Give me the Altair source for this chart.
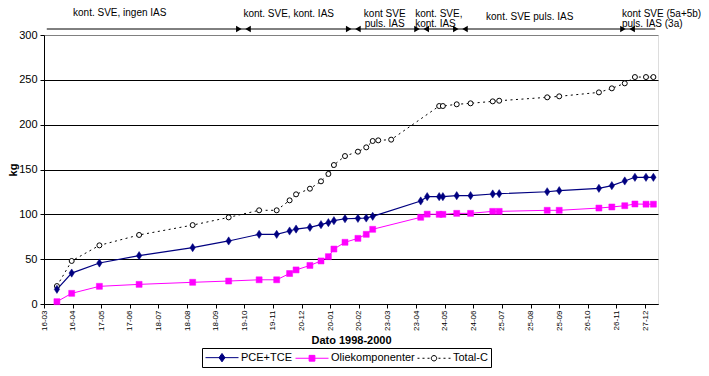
import json
import altair as alt
import pandas as pd

# ---------------- data ----------------
base_date = "1998-03-16"
dates = ["1998-03-30", "1998-04-15", "1998-05-15", "1998-06-27", "1998-08-24", "1998-10-02",
         "1998-11-04", "1998-11-23", "1998-12-07", "1998-12-14", "1998-12-29", "1999-01-10",
         "1999-01-18", "1999-01-24", "1999-02-05", "1999-02-19", "1999-02-28", "1999-03-07",
         "1999-03-13", "1999-03-27", "1999-04-28", "1999-05-05", "1999-05-18", "1999-05-22",
         "1999-06-06", "1999-06-21", "1999-07-15", "1999-07-22", "1999-09-12", "1999-09-25",
         "1999-11-07", "1999-11-21", "1999-12-05", "1999-12-16", "1999-12-28", "2000-01-05"]
pce = [16.4, 34.5, 45.7, 53.9, 62.8, 70.3, 77.7, 77.7, 81.4, 83.6, 85.5, 88.5,
       90.7, 92.9, 95.1, 95.5, 95.9, 97.8, None, None, 114.9, 119.7, 119.7, 119.7,
       120.8, 120.8, 122.7, 123.0, 125.2, 126.4, 129.0, 132.0, 137.2, 141.3, 141.3, 141.3]
oil = [2.6, 11.9, 19.7, 21.9, 24.2, 25.6, 27.0, 27.0, 34.0, 38.0, 43.0, 48.0,
       52.8, 61.3, 68.8, 73.2, 77.7, 83.3, None, None, 96.7, 100.2, 100.0, 100.0,
       101.1, 101.1, 103.3, 103.3, 104.5, 104.5, 107.0, 108.2, 109.6, 111.5, 111.3, 111.3]
totc = [20.0, 48.0, 65.4, 77.0, 88.0, 96.6, 104.5, 104.5, 115.6, 122.3, 128.6, 136.8,
        145.0, 155.0, 165.0, 169.9, 174.7, 181.8, 182.5, 183.3, None, None, 220.8, 220.8,
        222.7, 223.8, 226.0, 226.7, 230.5, 231.6, 236.0, 240.5, 246.1, 253.1, 253.1, 253.1]
series_names = ["PCE+TCE", "Oliekomponenter", "Total-C"]

tick_labels = ["16-03", "16-04", "17-05", "17-06", "18-07", "18-08", "18-09", "19-10",
               "19-11", "20-12", "20-01", "20-02", "23-03", "23-04", "24-05", "24-06",
               "25-07", "25-08", "25-09", "26-10", "26-11", "27-12"]
tick_step_days = 31
axis_end = "2000-01-10"
y_ticks = [0, 50, 100, 150, 200, 250, 300]

phase_bounds = ["1998-10-18", "1999-02-14", "1999-04-29", "1999-06-10", "1999-12-08"]
arrow_span = ["1998-03-19", "2000-01-07"]
phase_texts = ["kont. SVE, ingen IAS", "kont. SVE, kont. IAS", "kont SVE\npuls. IAS",
               "kont. SVE,\nkont. IAS", "kont. SVE puls. IAS", "kont SVE (5a+5b)\npuls. IAS (3a)"]
phase_anchor = ["1998-06-06", "1998-12-06", "1999-03-20", "1999-04-22", "1999-08-24", "1999-12-02"]

# ---------------- build tables ----------------
t0 = pd.Timestamp(base_date)


def to_day(d):
    return (pd.Timestamp(d) - t0).days


rows = []
for name, vals in zip(series_names, [pce, oil, totc]):
    for d, v in zip(dates, vals):
        if v is not None:
            rows.append({"series": name, "day": to_day(d), "kg": v})
df = pd.DataFrame(rows)

FONT = "Liberation Sans, Arial, sans-serif"
NAVY = "#000080"
MAGENTA = "#FF00FF"

label_expr = json.dumps(tick_labels) + "[round(datum.value / %d)]" % tick_step_days

X_AXIS = alt.Axis(values=[i * tick_step_days for i in range(len(tick_labels))],
                  labelExpr=label_expr, labelAngle=270, labelFont=FONT,
                  labelFontSize=8, labelColor="black", labelPadding=2,
                  labelOverlap=False, labelFlush=False, labelBound=False,
                  tickSize=4, tickColor="black", domainColor="black", grid=False,
                  title="Dato 1998-2000", titleFont=FONT, titleFontSize=11,
                  titleFontWeight="bold", titleColor="black", titlePadding=4)
X_SCALE = alt.Scale(domain=[0, to_day(axis_end)], nice=False, zero=False)
X = alt.X("day:Q", scale=X_SCALE, axis=X_AXIS)
Y = alt.Y("kg:Q",
          scale=alt.Scale(domain=[0, 300], nice=False),
          axis=alt.Axis(values=y_ticks, labelFont=FONT, labelFontSize=11, labelColor="black",
                        labelPadding=3, tickSize=4, tickColor="black", domainColor="black",
                        grid=True, gridWidth=1,
                        gridColor={"condition": {"test": "datum.value === 300", "value": "#808080"},
                                   "value": "black"},
                        title="kg", titleFont=FONT, titleFontSize=11, titleFontWeight="bold",
                        titleColor="black", titlePadding=0))

base = alt.Chart(df)


def sel(name):
    return base.transform_filter(alt.datum.series == name)


line_pce = sel("PCE+TCE").mark_line(color=NAVY, strokeWidth=1.2).encode(x=X, y=Y)
line_oil = sel("Oliekomponenter").mark_line(color=MAGENTA, strokeWidth=1).encode(x=X, y=Y)
line_tot = sel("Total-C").mark_line(color="black", strokeWidth=1, strokeDash=[2, 3.5]).encode(x=X, y=Y)

DIAMOND = "M0,-1.3L0.85,0L0,1.3L-0.85,0Z"
pts_pce = sel("PCE+TCE").mark_point(shape=DIAMOND, size=40, filled=True, fill=NAVY,
                                    stroke=NAVY, strokeWidth=0.5, opacity=1).encode(x=X, y=Y)
pts_oil = sel("Oliekomponenter").mark_point(shape="square", size=36, filled=True, fill=MAGENTA,
                                            stroke=MAGENTA, strokeWidth=0.5, opacity=1).encode(x=X, y=Y)
pts_tot = sel("Total-C").mark_point(shape="circle", size=25, filled=True, fill="white",
                                    stroke="black", strokeWidth=1, opacity=1).encode(x=X, y=Y)

# legend symbols: line + marker (unit = sqrt(size)/2 px)
leg_paths = [
    "M-1,0H4.5M1.75,-0.7L2.25,0L1.75,0.7L1.25,0Z",
    "M-1,0H4.5M1.27,-0.48H2.23V0.48H1.27Z",
    "M-1,0H-0.67M-0.17,0H0.17M0.67,0H1.0M2.5,0H2.83M3.33,0H3.67M4.17,0H4.5"
    "M2.2,0A0.45,0.45,0,1,1,1.3,0A0.45,0.45,0,1,1,2.2,0Z",
]
leg_kw = dict(orient="none", legendX=158, legendY=313, direction="horizontal", title=None,
              symbolSize=144, labelFont=FONT, labelFontSize=11, labelColor="black",
              labelOffset=23, columnPadding=0, padding=3, strokeColor="black",
              fillColor="white", symbolStrokeWidth=1)
legend_df = pd.DataFrame({"series": series_names})
legend_layer = alt.Chart(legend_df).transform_filter("false").mark_point(
    opacity=1, filled=True, strokeWidth=1).encode(
    shape=alt.Shape("series:N", scale=alt.Scale(domain=series_names, range=leg_paths),
                    legend=alt.Legend(**leg_kw)),
    fill=alt.Fill("series:N", scale=alt.Scale(domain=series_names, range=[NAVY, MAGENTA, "#FFFFFF"]),
                  legend=alt.Legend(**leg_kw)),
    stroke=alt.Stroke("series:N", scale=alt.Scale(domain=series_names, range=[NAVY, MAGENTA, "#000000"]),
                      legend=alt.Legend(**leg_kw)),
)

# ---------------- phase annotations above the plot ----------------
span_df = pd.DataFrame({"day": [to_day(arrow_span[0])], "day2": [to_day(arrow_span[1])]})
arrow_line = alt.Chart(span_df).mark_rule(color="black", strokeWidth=1).encode(
    x=X, x2=alt.X2("day2:Q"), y=alt.value(-6))
tri_r_df = pd.DataFrame({"day": [to_day(b) - 5 for b in phase_bounds]})
tri_l_df = pd.DataFrame({"day": [to_day(b) + 5 for b in phase_bounds]})
tri_r = alt.Chart(tri_r_df).mark_point(shape="triangle-right", size=40, filled=True,
                                       color="black", opacity=1).encode(x=X, y=alt.value(-6))
tri_l = alt.Chart(tri_l_df).mark_point(shape="triangle-left", size=40, filled=True,
                                       color="black", opacity=1).encode(x=X, y=alt.value(-6))

# (align, y of first line)
text_styles = [("center", -22), ("center", -21.5), ("center", -21.5),
               ("left", -21.5), ("center", -18.5), ("left", -21.5)]
text_layers = []
for txt, anc, (al, yy) in zip(phase_texts, phase_anchor, text_styles):
    tdf = pd.DataFrame({"day": [to_day(anc)], "label": [txt]})
    text_layers.append(
        alt.Chart(tdf).mark_text(align=al, baseline="middle", font=FONT, fontSize=10,
                                 color="black", lineBreak="\n", lineHeight=10).encode(
            x=X, y=alt.value(yy), text="label:N"))

chart = alt.layer(
    line_tot, line_oil, line_pce, pts_tot, pts_oil, pts_pce, legend_layer,
    arrow_line, tri_r, tri_l, *text_layers
).properties(
    width=614, height=269,
    autosize=alt.AutoSizeParams(type="none"),
    padding={"left": 36, "top": 27, "right": 43, "bottom": 64},
).configure_view(stroke="#808080", strokeWidth=1).configure(background="white")

chart.save("out.html", embed_options={"renderer": "svg", "actions": False})
